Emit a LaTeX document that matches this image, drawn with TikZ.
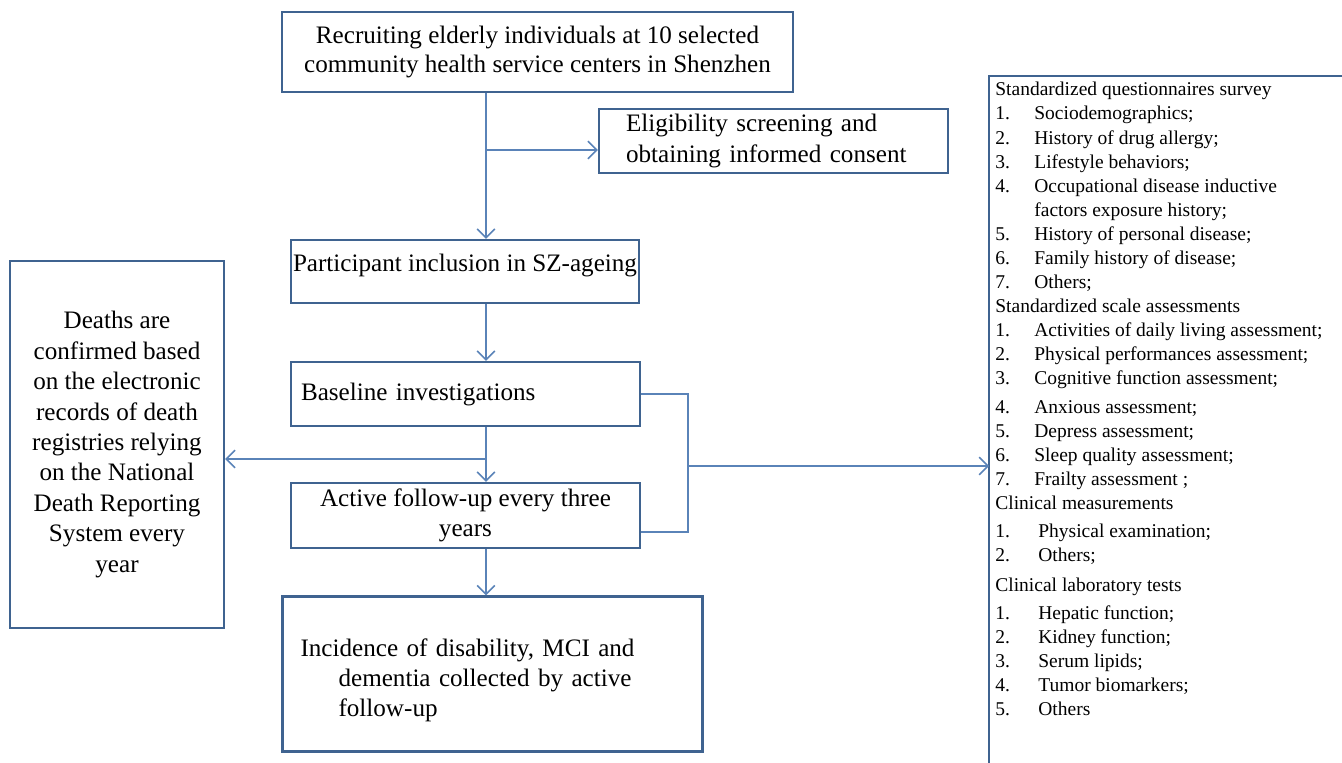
\documentclass[tikz,border=0pt]{standalone}
\usepackage{fontspec}
\setmainfont{Liberation Serif}
\usepackage{xcolor}
\definecolor{SZdeep}{HTML}{3F6390}
\definecolor{SZmid}{HTML}{5A83B8}
\usetikzlibrary{arrows.meta, calc, positioning}
\newcommand{\boxfont}{\fontsize{14.3}{17.3}\selectfont}
\newcommand{\listfont}{\fontsize{11.1}{13.7}\selectfont}
\newcommand{\numcol}[2]{\makebox[#1][l]{#2}}

\begin{document}
\begin{tikzpicture}[x=0.02cm, y=-0.02cm]
  \tikzset{
    stage/.style={draw=SZdeep, line width=1.4pt, inner sep=0pt, font=\boxfont},
    flow/.style={-{Straight Barb[length=5pt, width=10pt]}, SZmid, line width=0.9pt},
    link/.style={SZmid, line width=0.9pt},
  }
  \useasboundingbox (0,0) rectangle (1342,763);
  \clip (0,0) rectangle (1342,763);

  % Main column of stages
  \node[stage, minimum width=10.22cm, minimum height=1.6cm, align=center, font=\fontsize{14.3}{16}\selectfont]
    (recruit) at (537.5,52) {Recruiting elderly individuals at 10 selected\\community health service centers in Shenzhen};
  \node[stage, minimum width=6.98cm, minimum height=1.28cm, inner xsep=0.54cm, text width=5.9cm, align=left]
    (elig) at (773.5,141) {Eligibility screening and\\obtaining informed consent};
  \node[stage, minimum width=6.96cm, minimum height=1.26cm, text depth=0.35cm, align=center]
    (part) at (465,271.5) {Participant inclusion in SZ-ageing};
  \node[stage, minimum width=6.98cm, minimum height=1.28cm, inner xsep=0.2cm, text width=6.58cm, align=left]
    (base) at (465.5,394) {Baseline investigations};
  \node[stage, minimum width=6.98cm, minimum height=1.3cm, align=center]
    (follow) at (465.5,515.5) {Active follow-up every three\\years};
  \node[stage, minimum width=8.4cm, minimum height=3.1cm, inner xsep=0.36cm, text width=7.68cm, align=left]
    (outcome) at (492.5,674) {\mbox{}\\Incidence of disability, MCI and\\\hspace*{0.76cm}dementia collected by active\\\hspace*{0.76cm}follow-up};

  % Side boxes
  \node[stage, minimum width=4.28cm, minimum height=7.34cm, align=center]
    (death) at (117,444.5) {Deaths are\\confirmed based\\on the electronic\\records of death\\registries relying\\on the National\\Death Reporting\\System every\\year};
  \node[anchor=north west, inner xsep=0.12cm, inner ysep=0.12cm, align=left, font=\listfont]
    (tests) at (989,76) {Standardized questionnaires survey\\
      \numcol{0.78cm}{1.}Sociodemographics;\\
      \numcol{0.78cm}{2.}History of drug allergy;\\
      \numcol{0.78cm}{3.}Lifestyle behaviors;\\
      \numcol{0.78cm}{4.}Occupational disease inductive\\
      \numcol{0.78cm}{}factors exposure history;\\
      \numcol{0.78cm}{5.}History of personal disease;\\
      \numcol{0.78cm}{6.}Family history of disease;\\
      \numcol{0.78cm}{7.}Others;\\
      Standardized scale assessments\\
      \numcol{0.78cm}{1.}Activities of daily living assessment;\\
      \numcol{0.78cm}{2.}Physical performances assessment;\\
      \numcol{0.78cm}{3.}Cognitive function assessment;\\[2.8pt]
      \numcol{0.78cm}{4.}Anxious assessment;\\
      \numcol{0.78cm}{5.}Depress assessment;\\
      \numcol{0.78cm}{6.}Sleep quality assessment;\\
      \numcol{0.78cm}{7.}Frailty assessment ;\\
      Clinical measurements\\[1.7pt]
      \numcol{0.86cm}{1.}Physical examination;\\
      \numcol{0.86cm}{2.}Others;\\[3.4pt]
      Clinical laboratory tests\\[2.3pt]
      \numcol{0.86cm}{1.}Hepatic function;\\
      \numcol{0.86cm}{2.}Kidney function;\\
      \numcol{0.86cm}{3.}Serum lipids;\\
      \numcol{0.86cm}{4.}Tumor biomarkers;\\
      \numcol{0.86cm}{5.}Others};
  \draw[SZdeep, line width=1.4pt] (tests.north west) rectangle ++(420,720);

  % Connectors
  \coordinate (trunk) at (486,0);
  \coordinate (eligin) at ($(elig.west)+(0,9)$);
  \coordinate (split) at (486,459);
  \coordinate (join) at (688,466);
  \draw[flow] (trunk |- recruit.south) -- (trunk |- part.north);
  \draw[flow] (trunk |- eligin) -- (eligin);
  \draw[flow] (trunk |- part.south) -- (trunk |- base.north);
  \draw[flow] (trunk |- base.south) -- (trunk |- follow.north);
  \draw[flow] (split) -- (split -| death.east);
  \draw[flow] (trunk |- follow.south) -- (trunk |- outcome.north);

  % Bracket to the assessment list
  \draw[link] (base.east) -| (join) |- ($(follow.east)+(0,16.5)$);
  \draw[flow] (join) -- (join -| tests.west);
\end{tikzpicture}
\end{document}
